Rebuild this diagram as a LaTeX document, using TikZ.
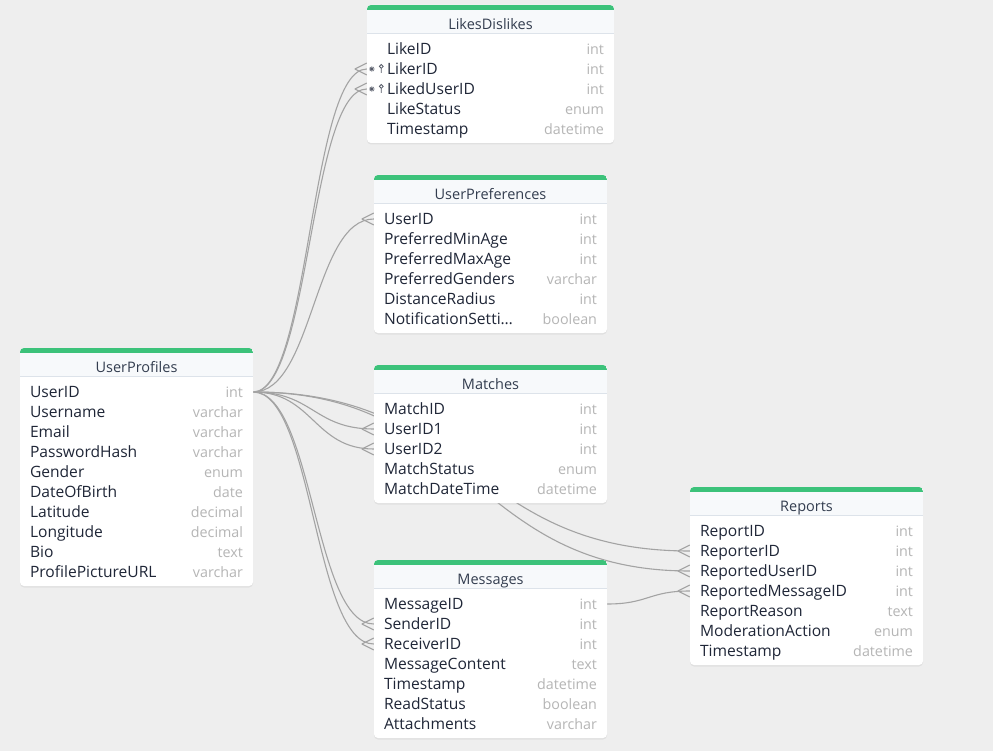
\documentclass[tikz,border=0pt]{standalone}
\usepackage{fontspec}
\setmainfont{Open Sans}
\usetikzlibrary{shadows}

\definecolor{canvas}{HTML}{EEEEEE}
\definecolor{topgreen}{HTML}{3CC27A}
\definecolor{hdrbg}{HTML}{F7F9FB}
\definecolor{hdrrule}{HTML}{DDE3EA}
\definecolor{fieldcol}{HTML}{1F2637}
\definecolor{titlecol}{HTML}{333D4F}
\definecolor{typecol}{HTML}{B5B5B5}
\definecolor{linkcol}{HTML}{A3A3A3}

\pgfdeclarelayer{back}
\pgfdeclarelayer{links}
\pgfsetlayers{back,links,main}

\tikzset{
  tblbox/.style={fill=white, rounded corners=4pt,
    drop shadow={opacity=0.12, shadow xshift=0pt, shadow yshift=-1.5pt}},
  rowbox/.style={rectangle, minimum height=20pt, inner sep=0pt},
  titletext/.style={anchor=base, inner sep=0pt, text=titlecol, font=\fontsize{14.5}{16}\selectfont},
  nametext/.style={anchor=base west, inner sep=0pt, text=fieldcol, font=\fontsize{15.6}{18}\selectfont},
  typetext/.style={anchor=base east, inner sep=0pt, text=typecol, font=\fontsize{14.3}{16}\selectfont},
  link/.style={draw=linkcol, line width=1.1pt},
  keymark/.style={fieldcol!75, line width=0.8pt},
}

% one table: #1 id, #2 x, #3 y, #4 width, #5 number of rows,
% #6 inset of the field names, #7 title, #8 name/type list
\newcommand{\erdtable}[8]{%
  \pgfmathsetmacro{\tblh}{38+20*#5}
  \begin{scope}[shift={(#2,#3)}]
    \path[tblbox] (0,0) rectangle (#4,\tblh);
    \begin{scope}
      \clip[rounded corners=4pt] (0,0) rectangle (#4,\tblh);
      \fill[hdrbg] (0,0) rectangle (#4,28);
      \fill[topgreen] (0,0) rectangle (#4,5);
      \draw[hdrrule, line width=1.5pt] (0,28.5) -- (#4,28.5);
    \end{scope}
    \node[titletext] (#1) at (#4/2,24.5) {#7};
    \foreach \fname/\ftype [count=\i] in {#8} {
      \node[rowbox, minimum width=#4] (#1-\i) at (#4/2,24+20*\i) {};
      \node[nametext] (#1-\i-n) at ([xshift=#6,yshift=-5.5pt]#1-\i.west) {\fname};
      \node[typetext] (#1-\i-t) at ([xshift=-10pt,yshift=-5.5pt]#1-\i.east) {\ftype};
    }
  \end{scope}}

% many-side end of a relation, at a west anchor
\newcommand{\crowfoot}[1]{%
  \draw[link] ([xshift=-12pt]#1) -- ([yshift=6pt]#1)
              ([xshift=-12pt]#1) -- ([yshift=-6pt]#1);}

\begin{document}
\begin{tikzpicture}[x=1pt,y=-1pt]
  \useasboundingbox (0,0) rectangle (993,751);
  \begin{pgfonlayer}{back}
    \fill[canvas] (0,0) rectangle (993,751);
  \end{pgfonlayer}

  % Tables
  \erdtable{ld}{367}{5}{247}{5}{20pt}{LikesDislikes}
    {LikeID/int, LikerID/int, LikedUserID/int, LikeStatus/enum, Timestamp/datetime}
  \erdtable{pref}{374}{175}{233}{6}{10pt}{UserPreferences}
    {UserID/int, PreferredMinAge/int, PreferredMaxAge/int, PreferredGenders/varchar,
     DistanceRadius/int, NotificationSetti…/boolean}
  \erdtable{up}{20}{348}{233}{10}{10pt}{UserProfiles}
    {UserID/int, Username/varchar, Email/varchar, PasswordHash/varchar, Gender/enum,
     DateOfBirth/date, Latitude/decimal, Longitude/decimal, Bio/text, ProfilePictureURL/varchar}
  \erdtable{mt}{374}{365}{233}{5}{10pt}{Matches}
    {MatchID/int, UserID1/int, UserID2/int, MatchStatus/enum, MatchDateTime/datetime}
  \erdtable{msg}{374}{560}{233}{7}{10pt}{Messages}
    {MessageID/int, SenderID/int, ReceiverID/int, MessageContent/text, Timestamp/datetime,
     ReadStatus/boolean, Attachments/varchar}
  \erdtable{rep}{690}{487}{233}{7}{10pt}{Reports}
    {ReportID/int, ReporterID/int, ReportedUserID/int, ReportedMessageID/int,
     ReportReason/text, ModerationAction/enum, Timestamp/datetime}

  % foreign key marks in LikesDislikes
  \foreach \r in {2,3}{
    \fill[fieldcol!75] ([xshift=-15pt]ld-\r.west) ++(20,0) circle (1.6pt);
    \draw[keymark, line width=0.6pt]
      ([xshift=-2.8pt]ld-\r.west) ++(20,0) ++(-15,0) -- ++(5.6,0)
      ([yshift=2.8pt]ld-\r.west) ++(5,0) -- ++(0,5.6)
      ([xshift=3pt,yshift=2pt]ld-\r.west) -- ++(4,4)
      ([xshift=7pt,yshift=2pt]ld-\r.west) -- ++(-4,4);
    \draw[keymark] ([yshift=2.6pt]ld-\r.west) ++(14.5,0) circle (1.9pt)
      ([yshift=0.7pt]ld-\r.west) ++(14.5,0) -- ++(0,4.5);
  }

  % Relations
  \begin{pgfonlayer}{links}
    \draw[link] (up-1.east) .. controls +(57,0) and +(-57,0) .. (ld-2.west);
    \draw[link] (up-1.east) .. controls +(57,0) and +(-57,0) .. (ld-3.west);
    \draw[link] (up-1.east) .. controls +(60,0) and +(-60,0) .. (pref-1.west);
    \draw[link] (up-1.east) .. controls +(60,0) and +(-60,0) .. (mt-2.west);
    \draw[link] (up-1.east) .. controls +(60,0) and +(-60,0) .. (mt-3.west);
    \draw[link] (up-1.east) .. controls +(60,0) and +(-60,0) .. (msg-2.west);
    \draw[link] (up-1.east) .. controls +(60,0) and +(-60,0) .. (msg-3.west);
    \draw[link] (up-1.east) .. controls +(218,0) and +(-218,0) .. (rep-2.west);
    \draw[link] (up-1.east) .. controls +(218,0) and +(-218,0) .. (rep-3.west);
    \draw[link] (msg-1.east) .. controls +(41,0) and +(-41,0) .. (rep-4.west);
    \foreach \n in {ld-2, ld-3, pref-1, mt-2, mt-3, msg-2, msg-3, rep-2, rep-3, rep-4}
      {\crowfoot{\n.west}}
  \end{pgfonlayer}
\end{tikzpicture}
\end{document}
